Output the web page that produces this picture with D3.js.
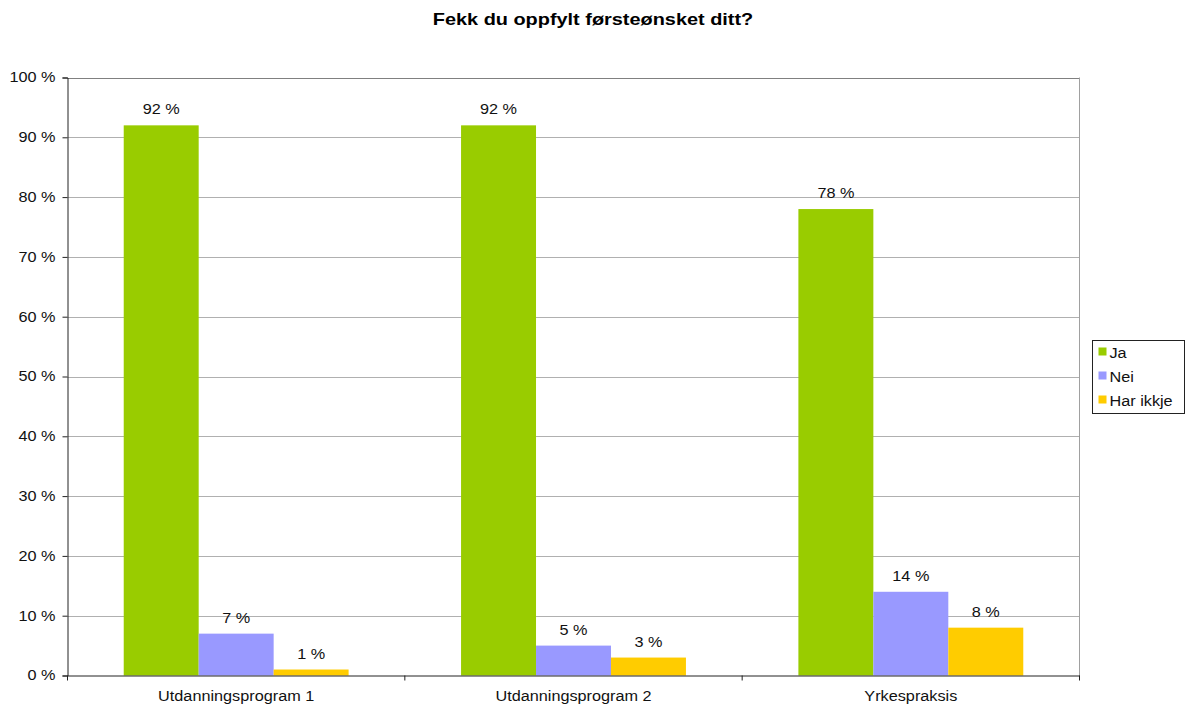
<!DOCTYPE html>
<html><head><meta charset="utf-8">
<script src="https://cdn.jsdelivr.net/npm/d3@7"></script>
<style>body{margin:0;background:#fff;font-family:"Liberation Sans",Arial,sans-serif;}</style>
</head><body>
<svg id="c" width="1185" height="711"></svg>
<script>
const categories = ["Utdanningsprogram 1", "Utdanningsprogram 2", "Yrkespraksis"];
const seriesNames = ["Ja", "Nei", "Har ikkje"];
const ja = [92, 92, 78];
const nei = [7, 5, 14];
const harIkkje = [1, 3, 8];
const tickValues = [0, 10, 20, 30, 40, 50, 60, 70, 80, 90, 100];
const colors = ["#99CC00", "#9999FF", "#FFCC00"];
const series = [ja, nei, harIkkje];

const SX = 1.16;
function stretch(sel, s) {
  sel.each(function () {
    const t = d3.select(this);
    const x = +t.attr("x") || 0, y = +t.attr("y") || 0;
    t.attr("x", null).attr("y", null).attr("transform", `translate(${x},${y}) scale(${s},1)`);
  });
}

const svg = d3.select("#c");
const L = 67.5, R = 1079.5, T = 77.5, B = 675.5;
const x = d3.scaleBand().domain(categories).range([L, R]).paddingInner(0).paddingOuter(0);
const y = d3.scaleLinear().domain([0, 100]).range([B, T]);
const xs = d3.scaleBand().domain(seriesNames).range([0, x.bandwidth()]).paddingInner(0).paddingOuter(0.75);

stretch(svg.append("text").attr("x", 593).attr("y", 25).attr("text-anchor", "middle")
  .attr("font-size", 17).attr("font-weight", "bold").attr("fill", "#000").text("Fekk du oppfylt førsteønsket ditt?"), 1.17);

// gridlines
svg.append("g").selectAll("line").data(tickValues.filter(d => d > 0)).join("line")
  .attr("x1", L).attr("x2", R).attr("y1", d => Math.round(y(d)) + 0.5).attr("y2", d => Math.round(y(d)) + 0.5)
  .attr("stroke", d => d === 100 ? "#808080" : "#b0b0b0").attr("stroke-width", 1);
svg.append("line").attr("x1", R).attr("x2", R).attr("y1", T).attr("y2", B).attr("stroke", "#a0a0a0");

// bars
const g = svg.append("g");
categories.forEach((c, i) => {
  series.forEach((s, j) => {
    const bx = x(c) + xs(seriesNames[j]);
    g.append("rect").attr("x", bx).attr("width", xs.bandwidth())
      .attr("y", y(s[i])).attr("height", y(0) - y(s[i])).attr("fill", colors[j]);
    stretch(g.append("text").attr("x", bx + xs.bandwidth() / 2).attr("y", y(s[i]) - 11)
      .attr("text-anchor", "middle").attr("font-size", 14).attr("fill", "#111").text(s[i] + " %"), SX);
  });
});

// y axis
const ya = svg.append("g").attr("transform", `translate(${L},0)`)
  .call(d3.axisLeft(y).tickValues(tickValues).tickSize(5).tickPadding(7).tickFormat(d => d + " %"));
ya.select(".domain").attr("stroke", "#222");
ya.selectAll(".tick line").attr("stroke", "#222");
ya.selectAll("text").attr("font-size", 14).attr("font-family", "Liberation Sans, Arial, sans-serif").attr("fill", "#111");
stretch(ya.selectAll("text"), SX);

// x axis
const xa = svg.append("g").attr("transform", `translate(0,${B})`)
  .call(d3.axisBottom(x).tickSize(0).tickPadding(16));
xa.select(".domain").attr("stroke", "#222");
xa.selectAll("text").attr("font-size", 14).attr("font-family", "Liberation Sans, Arial, sans-serif").attr("fill", "#111");
stretch(xa.selectAll("text"), SX);
const bounds = [L, ...categories.map(c => x(c) + x.bandwidth())];
xa.selectAll(".btick").data(bounds).join("line").attr("class", "btick")
  .attr("x1", d => d).attr("x2", d => d).attr("y1", 0).attr("y2", 5).attr("stroke", "#222");

// legend
const lg = svg.append("g").attr("transform", "translate(1092.5,340.5)");
lg.append("rect").attr("width", 92).attr("height", 73).attr("fill", "#fff").attr("stroke", "#222");
seriesNames.forEach((n, j) => {
  lg.append("rect").attr("x", 6).attr("y", 7 + j * 24).attr("width", 8).attr("height", 8).attr("fill", colors[j]);
  stretch(lg.append("text").attr("x", 17).attr("y", 17 + j * 24).attr("font-size", 14).attr("fill", "#111").text(n), SX);
});
</script>
</body></html>
